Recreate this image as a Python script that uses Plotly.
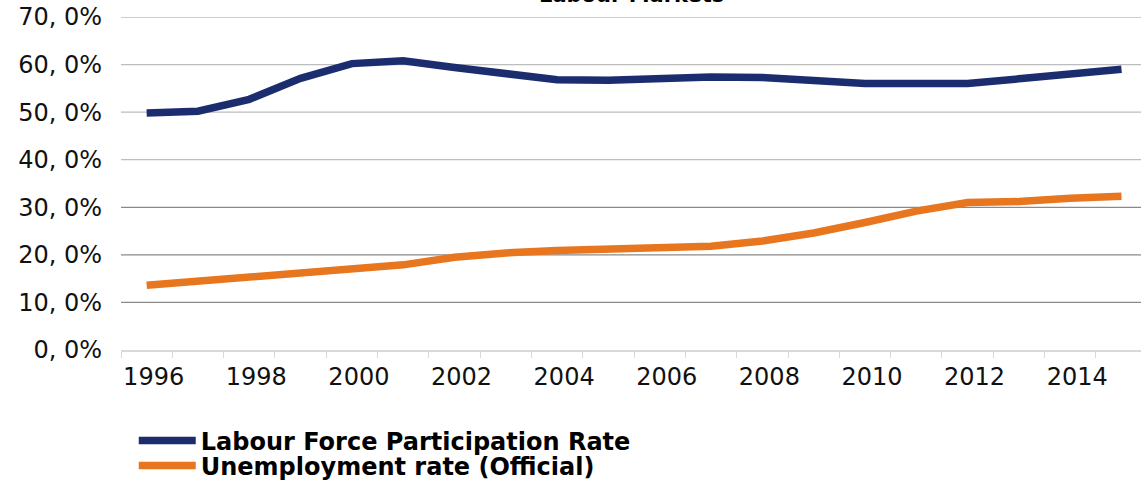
import plotly.graph_objects as go

# Annual series, 1996-2015 (percent)
years = [str(y) for y in range(1996, 2016)]
participation_rate = [49.8, 50.2, 52.7, 57.1, 60.2, 60.8, 59.4, 58.0, 56.8, 56.7,
                      57.0, 57.4, 57.3, 56.7, 56.0, 56.0, 56.0, 57.0, 58.1, 59.0]
unemployment_rate = [13.6, 14.5, 15.3, 16.2, 17.1, 17.9, 19.5, 20.4, 20.9, 21.2,
                     21.4, 21.8, 22.9, 24.6, 26.8, 29.2, 31.0, 31.2, 31.9, 32.3]

# Axis labels
y_tick_values = [0, 10, 20, 30, 40, 50, 60, 70]
y_tick_text = ["0, 0%", "10, 0%", "20, 0%", "30, 0%", "40, 0%", "50, 0%", "60, 0%", "70, 0%"]
x_tick_text = [y if (int(y) - 1996) % 2 == 0 else "" for y in years]

# Gridline shading: upper lines lighter than lower ones
grid_colors = {10: "#8a8a8a", 20: "#8a8a8a", 30: "#8a8a8a",
               40: "#bdbdbd", 50: "#bdbdbd", 60: "#bdbdbd", 70: "#bdbdbd"}

BLUE = "#1b2d6f"
ORANGE = "#e8761f"
FONT = "DejaVu Sans"

fig = go.Figure()
fig.add_trace(go.Scatter(
    x=years, y=participation_rate, mode="lines",
    name="Labour Force Participation Rate",
    line=dict(color=BLUE, width=7.5), legend="legend",
))
fig.add_trace(go.Scatter(
    x=years, y=unemployment_rate, mode="lines",
    name="Unemployment rate (Official)",
    line=dict(color=ORANGE, width=7.5), legend="legend2",
))

for level, color in grid_colors.items():
    fig.add_shape(type="line", xref="paper", yref="y", x0=0, x1=1, y0=level, y1=level,
                  line=dict(color=color, width=1.3), layer="below")

legend_common = dict(
    orientation="v", xanchor="left", yanchor="middle", yref="container",
    bgcolor="rgba(0,0,0,0)", itemwidth=57,
    font=dict(family=FONT, size=24, color="#000000", weight="bold"),
    tracegroupgap=0, itemclick=False,
)

fig.update_layout(
    width=1141, height=484,
    margin=dict(l=121, r=0, t=17, b=134),
    paper_bgcolor="white", plot_bgcolor="white",
    font=dict(family=FONT, color="#111111"),
    showlegend=True,
    legend=dict(x=0.0125, y=1 - 441 / 484, **legend_common),
    legend2=dict(x=0.0125, y=1 - 466 / 484, **legend_common),
    xaxis=dict(
        type="category", categoryorder="array", categoryarray=years,
        tickmode="array", tickvals=years, ticktext=x_tick_text,
        tickson="boundaries", ticks="outside", ticklen=6, tickcolor="#d9d9d9",
        showline=True, linecolor="#d9d9d9", linewidth=1.5,
        showgrid=False, zeroline=False,
        range=[-0.5, 19.38], tickangle=0, ticklabelshift=7,
        tickfont=dict(family=FONT, size=24, color="#111111"),
        ticklabelstandoff=4,
    ),
    yaxis=dict(
        range=[0, 70], tickmode="array", tickvals=y_tick_values, ticktext=y_tick_text,
        showgrid=False, zeroline=False, showline=False, ticks="",
        tickfont=dict(family=FONT, size=24, color="#111111"),
        ticklabelstandoff=18,
    ),
    annotations=[dict(
        text="<b>Labour Markets</b>", xref="paper", yref="paper", x=0.5, y=1,
        xanchor="center", yanchor="bottom", yshift=8, showarrow=False,
        font=dict(family=FONT, size=21, color="#000000"),
    )],
)

fig.write_html("out.html")
